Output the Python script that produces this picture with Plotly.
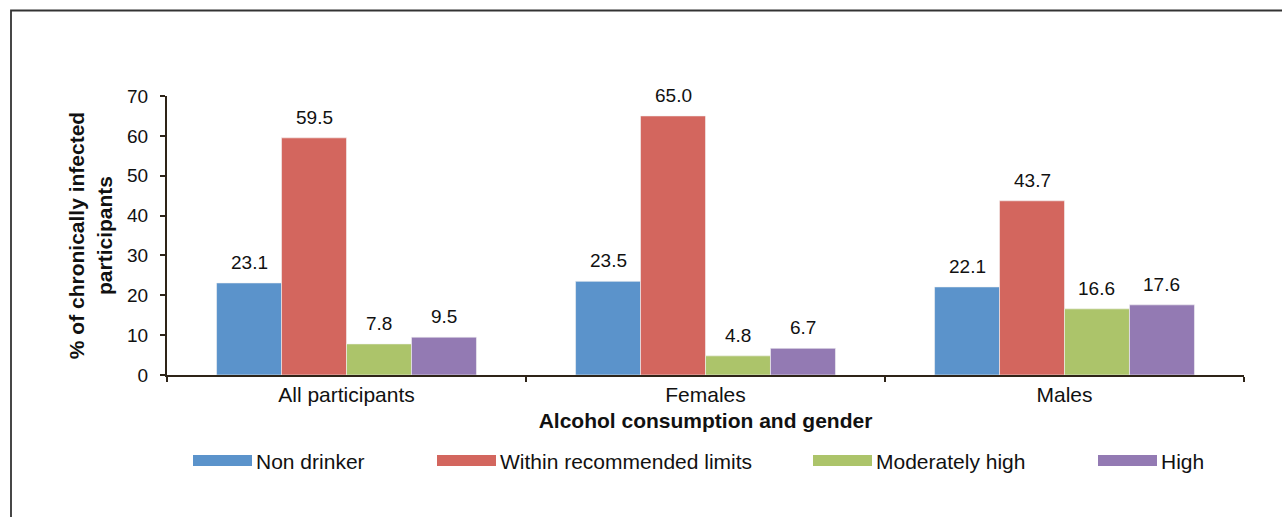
import plotly.graph_objects as go

# Share of chronically infected participants by alcohol consumption level
groups = ["All participants", "Females", "Males"]
series_names = ["Non drinker", "Within recommended limits", "Moderately high", "High"]
non_drinker = [23.1, 23.5, 22.1]
within_limits = [59.5, 65.0, 43.7]
moderately_high = [7.8, 4.8, 16.6]
high = [9.5, 6.7, 17.6]
colors = ["#5B93CB", "#D3665E", "#ACC46A", "#937AB3"]
y_ticks = [0, 10, 20, 30, 40, 50, 60, 70]

series_values = [non_drinker, within_limits, moderately_high, high]

W, H = 1282, 517
ML, MR, MT, MB = 167, 38, 96, 142
BARGAP = 0.276
FONT = "Liberation Sans, Arial, sans-serif"
AXIS_COLOR = "#2E2418"
TEXT_COLOR = "#111111"

fig = go.Figure()
for name, vals, col in zip(series_names, series_values, colors):
    fig.add_trace(go.Bar(
        x=groups, y=vals, name=name,
        marker=dict(color=col, line=dict(color="#F4F4F4", width=0.6)),
        showlegend=False,
    ))

# value labels above each bar, placed at the bar centres within the group
n = len(series_values)
bar_w = (1 - BARGAP) / n
annotations = []
for k, vals in enumerate(series_values):
    off = -(1 - BARGAP) / 2 + bar_w * (k + 0.5)
    for i, v in enumerate(vals):
        annotations.append(dict(
            x=i + off, y=v, xref="x", yref="y",
            text=f"{v:.1f}", showarrow=False,
            yanchor="bottom", yshift=8,
            font=dict(family=FONT, size=19, color=TEXT_COLOR),
        ))

# custom legend with wide swatches
plot_w = W - ML - MR
plot_h = H - MT - MB
def px_x(p):
    return (p - ML) / plot_w
def px_y(p):
    return (H - MB - p) / plot_h

legend_swatch_x = [193, 437, 813, 1098]
shapes = []
for sx, name, col in zip(legend_swatch_x, series_names, colors):
    shapes.append(dict(
        type="rect", xref="paper", yref="paper",
        x0=px_x(sx), x1=px_x(sx + 59), y0=px_y(466), y1=px_y(455),
        fillcolor=col, line=dict(width=0),
    ))
    annotations.append(dict(
        x=px_x(sx + 61), y=px_y(461), xref="paper", yref="paper",
        text=name, showarrow=False, xanchor="left", yanchor="middle",
        font=dict(family=FONT, size=21, color=TEXT_COLOR),
    ))

# outer frame
shapes.append(dict(
    type="rect", xref="paper", yref="paper",
    x0=px_x(11), x1=px_x(1300), y0=px_y(540), y1=px_y(10.5),
    line=dict(color="#333333", width=1.8), fillcolor="rgba(0,0,0,0)",
    layer="below",
))

fig.update_layout(
    width=W, height=H,
    margin=dict(l=ML, r=MR, t=MT, b=MB, pad=0),
    paper_bgcolor="white", plot_bgcolor="white",
    barmode="group", bargap=BARGAP, bargroupgap=0,
    font=dict(family=FONT, size=19, color=TEXT_COLOR),
    annotations=annotations, shapes=shapes,
    xaxis=dict(
        type="category",
        showline=True, linecolor=AXIS_COLOR, linewidth=2,
        ticks="outside", tickson="boundaries", ticklen=5,
        tickcolor=AXIS_COLOR, tickwidth=2,
        tickfont=dict(family=FONT, size=21, color=TEXT_COLOR),
        title=dict(text="<b>Alcohol consumption and gender</b>",
                   font=dict(family=FONT, size=21, color=TEXT_COLOR),
                   standoff=8),
        showgrid=False, zeroline=False,
    ),
    yaxis=dict(
        range=[0, 70], tickvals=y_ticks,
        showline=True, linecolor=AXIS_COLOR, linewidth=2,
        ticks="outside", ticklen=5, tickcolor=AXIS_COLOR, tickwidth=2,
        ticklabelstandoff=8,
        tickfont=dict(family=FONT, size=19, color=TEXT_COLOR),
        title=dict(text="<b>% of chronically infected<br>participants</b>",
                   font=dict(family=FONT, size=21, color=TEXT_COLOR),
                   standoff=9),
        showgrid=False, zeroline=False,
    ),
)

fig.write_html("out.html")
